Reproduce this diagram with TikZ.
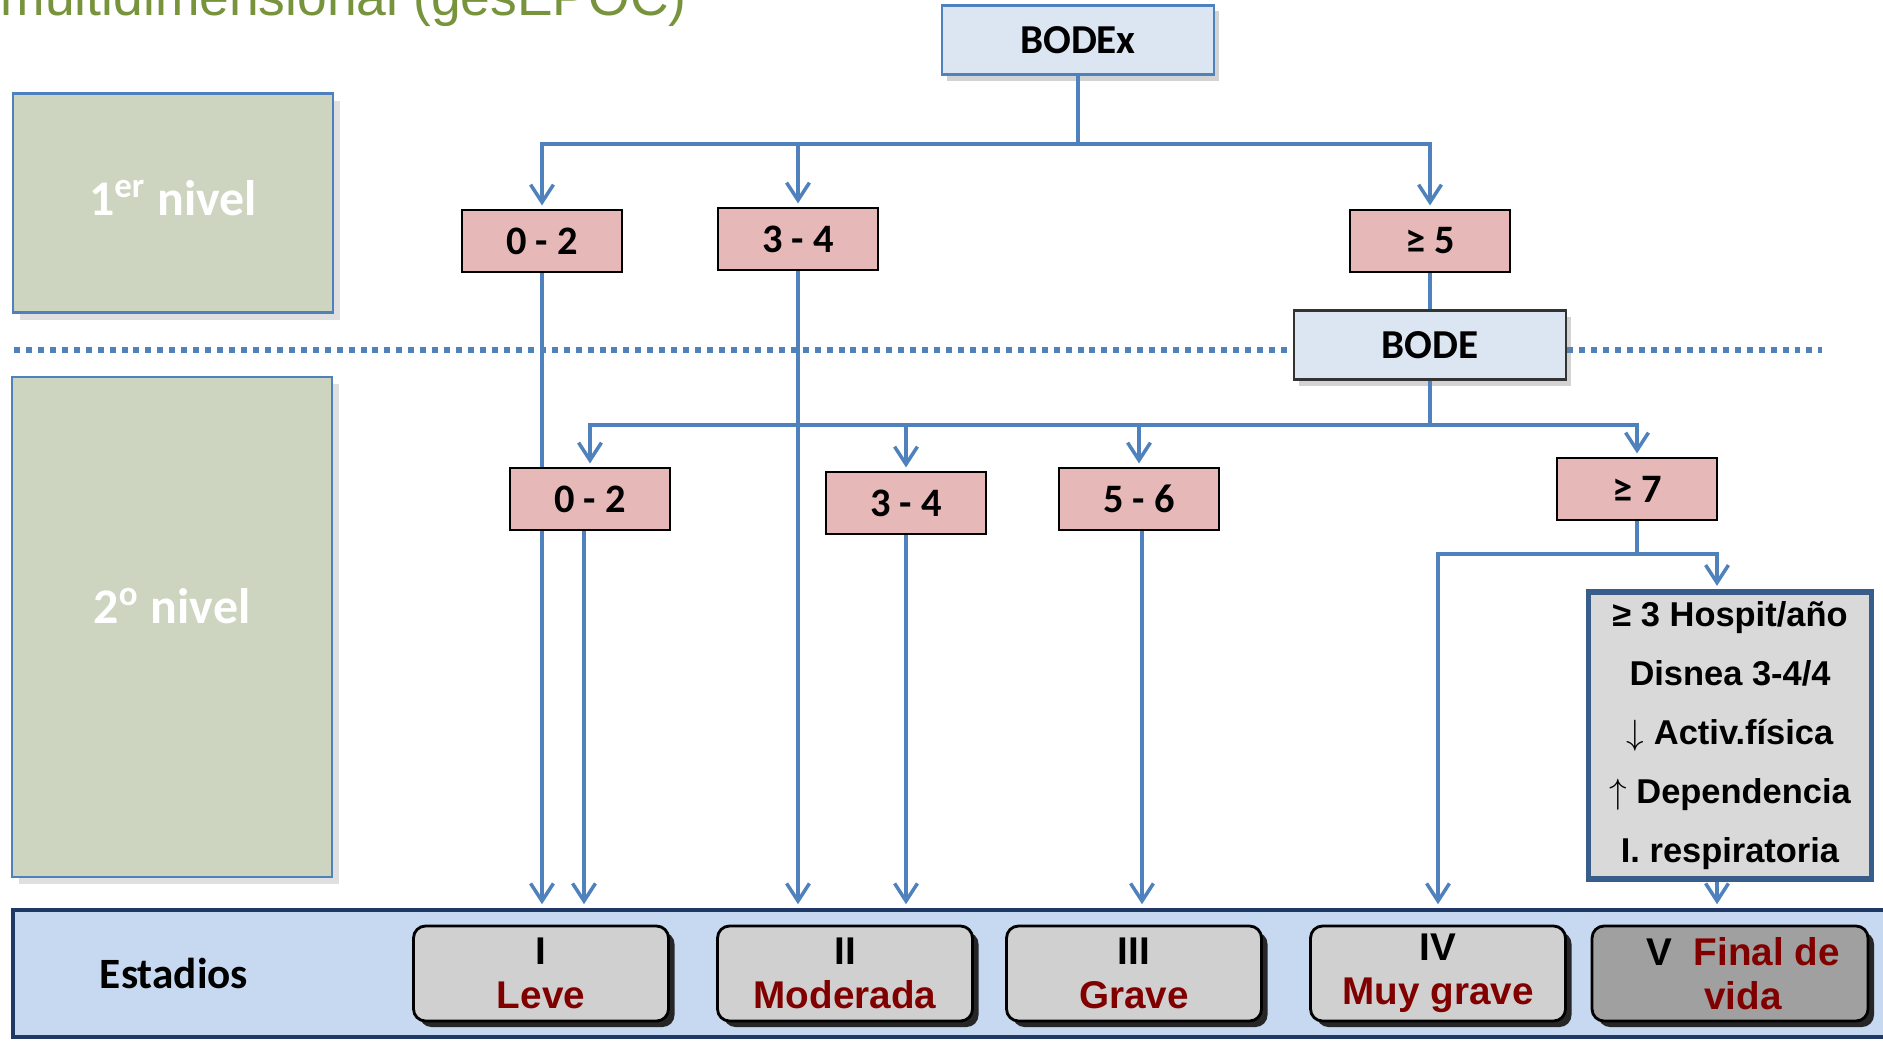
\documentclass[tikz,border=0pt]{standalone}
\usepackage{fontspec}
\setmainfont{Carlito}
\newfontfamily\arialfont{Liberation Sans}
\usepackage{tikz}
\usetikzlibrary{arrows.meta,positioning,shadows}
\definecolor{linkblue}{HTML}{4F81BD}
\definecolor{scorepink}{HTML}{E6B9B8}
\definecolor{indexblue}{HTML}{DCE6F2}
\definecolor{levelgreen}{HTML}{CDD5C0}
\definecolor{barblue}{HTML}{C6D9F1}
\definecolor{barnavy}{HTML}{1F3864}
\definecolor{critgray}{HTML}{D9D9D9}
\definecolor{critborder}{HTML}{385D8A}
\definecolor{stagegray}{HTML}{D0D0D0}
\definecolor{finalgray}{HTML}{A0A0A0}
\definecolor{stagered}{HTML}{800000}
\definecolor{titlegreen}{HTML}{77933C}

\begin{document}
\begin{tikzpicture}[
    title/.style={text=titlegreen, inner sep=0pt, font=\arialfont\fontsize{15.2}{16}\selectfont},
    score/.style={draw=black, line width=0.6pt, fill=scorepink, minimum width=1.6cm, minimum height=0.62cm, font=\fontsize{11.5}{12}\selectfont\bfseries},
    index/.style={draw=linkblue, line width=0.6pt, fill=indexblue, minimum width=2.72cm, minimum height=0.69cm, font=\fontsize{11.7}{13}\selectfont\bfseries, drop shadow={opacity=0.35, shadow xshift=0.05cm, shadow yshift=-0.06cm}},
    level/.style={draw=linkblue, line width=0.6pt, fill=levelgreen, text=white, minimum width=3.2cm, font=\fontsize{14.2}{16}\selectfont\bfseries, drop shadow={opacity=0.25, shadow xshift=0.07cm, shadow yshift=-0.07cm}},
    bar/.style={draw=barnavy, line width=1.3pt, fill=barblue, minimum width=18.87cm, minimum height=1.27cm},
    stage/.style={draw=black, line width=0.8pt, fill=stagegray, rounded corners=0.12cm, minimum width=2.55cm, minimum height=0.95cm, inner sep=1pt, align=center, font=\arialfont\fontsize{11}{12.5}\selectfont\bfseries, drop shadow={fill=black!85, opacity=1, shadow xshift=0.06cm, shadow yshift=-0.06cm}},
    crit/.style={draw=critborder, line width=1.5pt, fill=critgray, minimum width=2.83cm, minimum height=2.87cm, inner sep=0pt, align=center, font=\arialfont\fontsize{9.8}{16.8}\selectfont\bfseries},
    link/.style={linkblue, line width=1pt},
    arr/.style={link, shorten >=1pt, -{Straight Barb[length=5pt,width=6.5pt]}},
    sep/.style={linkblue, line width=1.7pt, dash pattern=on 1.7pt off 1.7pt},
]
\useasboundingbox (0,0) rectangle (18.83,-10.45);

% title, cut at the top edge
\node[title, anchor=base west] (title) at (0,-0.15) {multidimensional (gesEPOC)};

% line between the two levels
\draw[sep] (0.14,-3.50) -- (18.22,-3.50);

% level labels
\node[level, minimum height=2.19cm, text depth=0.1cm] (niv1) at (1.73,-2.03) {1\textsuperscript{er} nivel};
\node[level, minimum height=5.00cm, text depth=0.42cm] (niv2) at (1.72,-6.27) {2\textsuperscript{o} nivel};

% estadios
\node[bar] (bar) at (9.565,-9.735) {};
\node[font=\fontsize{12.3}{13}\selectfont\bfseries] (estadios) at (1.74,-9.73) {Estadios};
\node[stage] (s1) at (5.41,-9.735) {I\\\textcolor{stagered}{Leve}};
\node[stage] (s2) at (8.45,-9.735) {II\\\textcolor{stagered}{Moderada}};
\node[stage] (s3) at (11.34,-9.735) {III\\\textcolor{stagered}{Grave}};
\node[stage] (s4) at (14.38,-9.735) {IV\\\textcolor{stagered}{Muy grave}};
\node[stage, fill=finalgray, minimum width=2.76cm] (s5) at (17.30,-9.735) {\hspace*{0.26cm}V\ \ \textcolor{stagered}{Final de}\\\hspace*{0.26cm}\textcolor{stagered}{vida}};

% first level
\node[index] (bodex) at (10.78,-0.40) {BODEx};
\node[score] (a02) at (5.42,-2.41) {0 - 2};
\node[score] (a34) at (7.98,-2.39) {3 - 4};
\node[score] (a5) at (14.30,-2.41) {≥ 5};

\coordinate (j1) at (10.78,-1.44);
\draw[link] (bodex) -- (j1);
\foreach \n in {a02,a34,a5}
    \draw[arr] (j1) -| (\n);

\draw[arr] (a02) -- (a02 |- bar.north);
\draw[arr] (a34) -- (a34 |- bar.north);

% second level
\node[index, draw=black!80] (bode) at (14.30,-3.45) {BODE};
\draw[link] (a5) -- (bode);
\node[score] (b02) at (5.90,-4.99) {0 - 2};
\node[score] (b34) at (9.06,-5.03) {3 - 4};
\node[score] (b56) at (11.39,-4.99) {5 - 6};
\node[score] (b7) at (16.37,-4.89) {≥ 7};

\coordinate (j2) at (14.30,-4.25);
\draw[link] (bode) -- (j2);
\foreach \n in {b02,b34,b56,b7}
    \draw[arr] (j2) -| (\n);

\draw[arr] ([xshift=-0.06cm]b02.south) -- ([xshift=-0.06cm]b02.south |- bar.north);
\draw[arr] (b34) -- (b34 |- bar.north);
\draw[arr] ([xshift=0.03cm]b56.south) -- ([xshift=0.03cm]b56.south |- bar.north);

% criteria for V
\node[crit] (crit) at (17.30,-7.355) {≥ 3 Hospit/año\\Disnea 3-4/4\\$\downarrow$ Activ.física\\$\uparrow$ Dependencia\\I. respiratoria};
\coordinate (j3) at (16.37,-5.54);
\draw[link] (b7) -- (j3);
\draw[arr] (j3) -| ([xshift=-0.13cm]crit.north);
\draw[arr] (j3) -| (s4 |- bar.north);
\draw[arr] ([xshift=-0.13cm]crit.south) -- ([xshift=-0.13cm]crit.south |- bar.north);
\end{tikzpicture}
\end{document}
